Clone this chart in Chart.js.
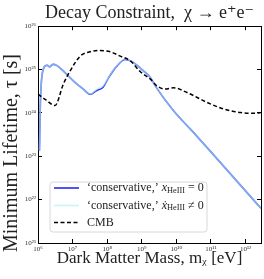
<!DOCTYPE html>
<html><head><meta charset="utf-8">
<script src="https://cdn.jsdelivr.net/npm/chart.js@4.4.1/dist/chart.umd.min.js"></script>
<style>html,body{margin:0;padding:0;background:#fff;overflow:hidden}#wrap{width:264px;height:279px;position:relative}</style>
</head><body><div id="wrap"><canvas id="c" width="264" height="279"></canvas></div>
<script>
// Dark matter mass [eV]
const massConservative = [1.10e6, 1.17e6, 1.26e6, 1.41e6, 1.58e6, 1.86e6, 2.14e6, 2.69e6, 3.55e6, 5.37e6, 1.05e7, 2.04e7, 3.24e7, 5.0e7, 7.6e7, 1.1e8, 1.9e8, 3.3e8, 5.75e8, 1.12e9, 1.78e9, 2.45e9, 8.3e9, 2.8e10, 2.8e12];
// 'conservative,' x_HeIII = 0  (minimum lifetime [s])
const lifetimeXHe0 = [1.35e23, 1.6e24, 5.6e24, 1.0e25, 1.2e25, 1.26e25, 1.15e25, 1.32e25, 1.23e25, 9.3e24, 5.5e24, 3.55e24, 2.7e24, 3.3e24, 3.9e24, 6.5e24, 1.2e25, 1.70e25, 1.45e25, 9.3e24, 6.5e24, 4.2e24, 1.12e24, 3.9e23, 6.3e21];
// 'conservative,' xdot_HeIII != 0
const lifetimeXHeDot = [1.35e23, 1.6e24, 5.6e24, 1.0e25, 1.2e25, 1.26e25, 1.15e25, 1.32e25, 1.23e25, 9.3e24, 5.5e24, 3.55e24, 2.75e24, 3.5e24, 4.2e24, 6.6e24, 1.22e25, 1.76e25, 1.45e25, 9.3e24, 6.5e24, 4.2e24, 1.12e24, 3.9e23, 6.3e21];
// CMB
const massCMB = [1e6, 1.7e6, 3.1e6, 5.4e6, 8.5e6, 1.66e7, 3.2e7, 6.3e7, 1.23e8, 2.4e8, 4.7e8, 9.1e8, 1.78e9, 2.75e9, 4.8e9, 8.3e9, 2.04e10, 7.8e10, 2.34e11, 7.2e11, 2.2e12, 2.8e12];
const lifetimeCMB = [2.7e24, 2.0e24, 1.48e24, 4.6e24, 9.3e24, 2.04e25, 2.57e25, 2.75e25, 2.57e25, 2.04e25, 1.58e25, 8.9e24, 6.0e24, 4.2e24, 3.55e24, 3.8e24, 2.95e24, 1.74e24, 1.23e24, 1.02e24, 9.8e23, 1.02e24];

const xTickValues = [1e6, 1e7, 1e8, 1e9, 1e10, 1e11, 1e12];
const yTickValues = [1e21, 1e22, 1e23, 1e24, 1e25, 1e26];
const seriesLabels = ["‘conservative,’ x_{HeIII} = 0", "‘conservative,’ x\u0307_{HeIII} ≠ 0", "CMB"];
const seriesColors = ["rgb(40,40,245)", "rgba(175,238,238,0.65)", "#000"];
const titleText = "Decay Constraint,  χ → e⁺e⁻";
const xTitle = "Dark Matter Mass, mᵪ [eV]";
const yTitle = "Minimum Lifetime, τ [s]";

const SERIF = "'Liberation Serif', 'DejaVu Serif', serif";
const SUP = {'0':'⁰','1':'¹','2':'²','3':'³','4':'⁴','5':'⁵','6':'⁶','7':'⁷','8':'⁸','9':'⁹','-':'⁻'};
function powLabel(v){ const e = Math.round(Math.log10(v)); return '10' + String(e).split('').map(c=>SUP[c]).join(''); }
const pts = (xs, ys) => xs.map((x,i)=>({x, y: ys[i]}));

function setTicks(vals){ return s => { s.ticks = vals.map(v=>({value:v})); }; }
const gridOpt = {drawOnChartArea:false, tickLength:-4, tickColor:'#000', tickWidth:1};
const borderOpt = {color:'#000', width:1};

const yTitlePlugin = {
  id:'yTitle',
  afterDraw(chart){
    const ctx = chart.ctx; ctx.save();
    ctx.translate(12, 153); ctx.rotate(-Math.PI/2);
    ctx.font = "20px " + SERIF; ctx.fillStyle = '#222';
    ctx.textAlign='center'; ctx.textBaseline='middle';
    ctx.fillText(yTitle, 0, 0); ctx.restore();
  }
};

function drawRich(ctx, text, x, y, size){
  const re = /(.\u0307?)_\{([^}]*)\}/g;
  let last = 0, m; const parts = [];
  while((m = re.exec(text))){ parts.push({t:text.slice(last, m.index)}); parts.push({t:m[1], it:true}); parts.push({t:m[2], sub:true}); last = re.lastIndex; }
  parts.push({t:text.slice(last)});
  let cx = x;
  for(const p of parts){
    if(!p.t) continue;
    const sz = p.sub ? size*0.7 : size;
    ctx.font = (p.it ? 'italic ' : '') + sz + 'px ' + SERIF;
    ctx.fillText(p.t, cx, p.sub ? y + size*0.22 : y);
    cx += ctx.measureText(p.t).width;
  }
}

const legendPlugin = {
  id:'boxLegend',
  afterDraw(chart){
    const ctx = chart.ctx; ctx.save();
    const x0=50, y0=182, w=157, h=50, r=3;
    ctx.beginPath();
    ctx.moveTo(x0+r,y0); ctx.lineTo(x0+w-r,y0); ctx.arcTo(x0+w,y0,x0+w,y0+r,r);
    ctx.lineTo(x0+w,y0+h-r); ctx.arcTo(x0+w,y0+h,x0+w-r,y0+h,r);
    ctx.lineTo(x0+r,y0+h); ctx.arcTo(x0,y0+h,x0,y0+h-r,r);
    ctx.lineTo(x0,y0+r); ctx.arcTo(x0,y0,x0+r,y0,r); ctx.closePath();
    ctx.fillStyle='rgba(255,255,255,0.85)'; ctx.fill();
    ctx.strokeStyle='#d8d8d8'; ctx.lineWidth=1; ctx.stroke();
    const rows=[188, 205.5, 222.5];
    const dsByLabel = {}; chart.data.datasets.forEach(d=>dsByLabel[d.label]=d);
    seriesLabels.forEach((lab,i)=>{
      const d = dsByLabel[lab];
      ctx.beginPath(); ctx.setLineDash(d.borderDash||[]);
      ctx.strokeStyle=d.borderColor; ctx.lineWidth=d.borderWidth;
      ctx.moveTo(54, rows[i]); ctx.lineTo(79, rows[i]); ctx.stroke();
      ctx.setLineDash([]);
      ctx.fillStyle='#222'; ctx.textBaseline='middle'; ctx.textAlign='left';
      drawRich(ctx, lab, 87, rows[i], 12);
    });
    ctx.restore();
  }
};

new Chart(document.getElementById('c'), {
  type:'line',
  data:{datasets:[
    {label:seriesLabels[2], data:pts(massCMB, lifetimeCMB), borderColor:seriesColors[2], borderWidth:1.5, borderDash:[4,2.5], pointRadius:0, cubicInterpolationMode:'monotone', fill:false},
    {label:seriesLabels[1], data:pts(massConservative, lifetimeXHeDot), borderColor:seriesColors[1], borderWidth:1.6, pointRadius:0, cubicInterpolationMode:'monotone', fill:false},
    {label:seriesLabels[0], data:pts(massConservative, lifetimeXHe0), borderColor:seriesColors[0], borderWidth:1.6, pointRadius:0, cubicInterpolationMode:'monotone', fill:false}
  ]},
  options:{
    responsive:false, animation:false, devicePixelRatio:1,
    layout:{padding:0},
    plugins:{
      legend:{display:false}, tooltip:{enabled:false},
      title:{display:true, text:titleText, fullSize:false, color:'#222', font:{family:SERIF, size:18, weight:'normal'}, padding:{top:2, bottom:2.6}}
    },
    scales:{
      x:{type:'logarithmic', position:'bottom', min:1e6, max:2.8e12, afterBuildTicks:setTicks(xTickValues),
         ticks:{callback:v=>powLabel(v), font:{family:SERIF, size:7}, color:'#333', padding:6, maxRotation:0, autoSkip:false},
         grid:gridOpt, border:borderOpt,
         title:{display:true, text:xTitle, color:'#222', font:{family:SERIF, size:17}, padding:{top:0,bottom:10}},
         afterFit:s=>{s.height=36;}},
      x2:{type:'logarithmic', position:'top', min:1e6, max:2.8e12, afterBuildTicks:setTicks(xTickValues),
         ticks:{display:false}, grid:gridOpt, border:borderOpt, afterFit:s=>{s.height=0;}},
      y:{type:'logarithmic', position:'left', min:1e21, max:1e26, afterBuildTicks:setTicks(yTickValues),
         ticks:{callback:v=>powLabel(v), font:{family:SERIF, size:7}, color:'#333', padding:6, autoSkip:false},
         grid:gridOpt, border:borderOpt, afterFit:s=>{s.width=38;}},
      y2:{type:'logarithmic', position:'right', min:1e21, max:1e26, afterBuildTicks:setTicks(yTickValues),
         ticks:{display:false}, grid:gridOpt, border:borderOpt, afterFit:s=>{s.width=3;}}
    }
  },
  plugins:[yTitlePlugin, legendPlugin]
});
</script></body></html>
